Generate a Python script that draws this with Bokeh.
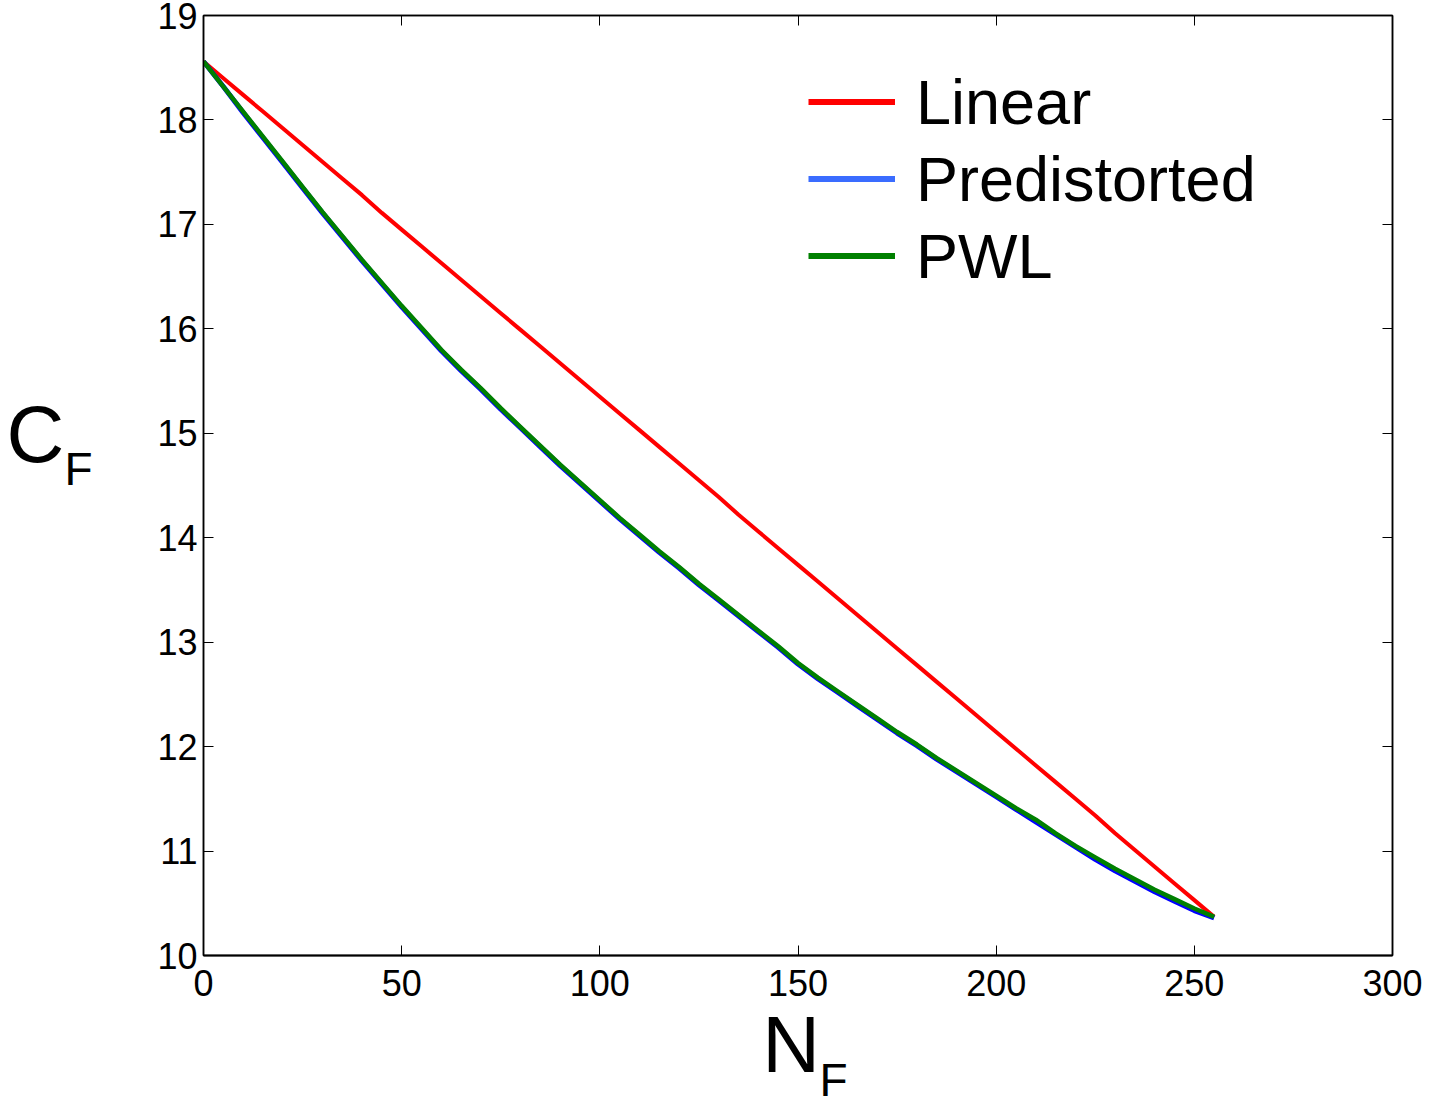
from bokeh.plotting import figure
from bokeh.models import (Range1d, LinearAxis, FixedTicker, Legend, LegendItem,
                          Label, ColumnDataSource, CustomJSTickFormatter)
from bokeh.embed import file_html
from bokeh.resources import INLINE

# ---- data ----
n_f = [0, 5, 10, 15, 20, 25, 30, 35, 40, 45, 50, 55, 60, 65, 70, 75, 80, 85, 90, 95,
       100, 105, 110, 115, 120, 125, 130, 135, 140, 145, 150, 155, 160, 165, 170, 175,
       180, 185, 190, 195, 200, 205, 210, 215, 220, 225, 230, 235, 240, 245, 250, 255]

linear = [18.56, 18.40, 18.24, 18.08, 17.92, 17.76, 17.60, 17.44, 17.28, 17.11,
          16.95, 16.79, 16.63, 16.47, 16.31, 16.15, 15.99, 15.83, 15.67, 15.51,
          15.35, 15.19, 15.03, 14.87, 14.71, 14.55, 14.39, 14.22, 14.06, 13.90,
          13.74, 13.58, 13.42, 13.26, 13.10, 12.94, 12.78, 12.62, 12.46, 12.30,
          12.14, 11.98, 11.82, 11.66, 11.50, 11.34, 11.17, 11.01, 10.85, 10.69,
          10.53, 10.37]

predistorted = [18.56, 18.32, 18.07, 17.83, 17.59, 17.35, 17.11, 16.88, 16.65, 16.43,
                16.21, 16.00, 15.79, 15.60, 15.42, 15.23, 15.05, 14.87, 14.69, 14.52,
                14.35, 14.18, 14.02, 13.86, 13.71, 13.55, 13.40, 13.25, 13.10, 12.95,
                12.79, 12.65, 12.52, 12.39, 12.26, 12.13, 12.01, 11.88, 11.76, 11.64,
                11.52, 11.40, 11.28, 11.16, 11.04, 10.92, 10.81, 10.71, 10.61, 10.52,
                10.43, 10.36]

pwl = [18.56, 18.32, 18.08, 17.84, 17.60, 17.36, 17.12, 16.89, 16.66, 16.44,
       16.22, 16.01, 15.80, 15.61, 15.43, 15.24, 15.06, 14.88, 14.70, 14.53,
       14.36, 14.19, 14.03, 13.87, 13.72, 13.56, 13.41, 13.26, 13.11, 12.96,
       12.80, 12.66, 12.53, 12.40, 12.27, 12.14, 12.02, 11.89, 11.77, 11.65,
       11.53, 11.41, 11.30, 11.17, 11.05, 10.94, 10.83, 10.73, 10.63, 10.54,
       10.45, 10.37]

x_ticks = [0, 50, 100, 150, 200, 250, 300]
y_ticks = [10, 11, 12, 13, 14, 15, 16, 17, 18, 19]
series_names = ["Linear", "Predistorted", "PWL"]
series_colors = ["#ff0000", "#0000ff", "#008000"]
legend_colors = ["#ff0000", "#3a6cff", "#008000"]

FONT = "Liberation Sans"

p = figure(width=1431, height=1101, output_backend="svg", toolbar_location=None,
           x_range=Range1d(0, 300), y_range=Range1d(10, 19),
           min_border_left=203, min_border_right=39, min_border_top=15,
           min_border_bottom=146, background_fill_color="white",
           border_fill_color="white")
p.grid.visible = False
p.outline_line_color = "black"
p.outline_line_width = 1.5

src = ColumnDataSource(dict(x=n_f, lin=linear, pre=predistorted, pwl=pwl))
p.line("x", "lin", source=src, line_color=series_colors[0], line_width=4)
p.line("x", "pre", source=src, line_color=series_colors[1], line_width=5)
p.line("x", "pwl", source=src, line_color=series_colors[2], line_width=4.5)

# legend swatches: renderers with a single undefined point, drawn thicker
nan = float("nan")
swatch = ColumnDataSource(dict(x=[nan], y=[nan]))
leg_r = [p.line("x", "y", source=swatch, line_color=c, line_width=6)
         for c in legend_colors]


def style_axis(ax, ticks, show_labels, width):
    ax.ticker = FixedTicker(ticks=ticks)
    ax.major_tick_in = 10
    ax.major_tick_out = 0
    ax.minor_tick_in = 0
    ax.minor_tick_out = 0
    ax.major_tick_line_color = "black"
    ax.major_tick_line_width = 1
    ax.axis_line_color = "black"
    ax.axis_line_width = width
    ax.major_label_text_font = FONT
    ax.major_label_text_font_size = "36px"
    ax.major_label_text_color = "black"
    if not show_labels:
        ax.formatter = CustomJSTickFormatter(code="return ''")
        ax.major_label_standoff = 0


xa = p.xaxis[0]
ya = p.yaxis[0]
style_axis(xa, x_ticks, True, 2)
style_axis(ya, y_ticks, True, 1.5)
xa.major_label_standoff = 14
ya.major_label_standoff = 6

top = LinearAxis()
right = LinearAxis()
style_axis(top, x_ticks, False, 1.5)
style_axis(right, y_ticks, False, 1.5)
p.add_layout(top, "above")
p.add_layout(right, "right")

# axis labels with subscripts, placed in side panels so they are not clipped
for txt, x, y, size, side in [("C", -49.7, 14.99, "80px", "left"),
                              ("F", -35.1, 14.66, "46px", "left"),
                              ("N", 141.0, 9.15, "80px", "left"),
                              ("F", 155.4, 8.81, "46px", "right")]:
    p.add_layout(Label(x=x, y=y, text=txt, text_font=FONT, text_font_size=size,
                       text_color="black", text_baseline="alphabetic",
                       text_align="left"), side)

legend = Legend(items=[LegendItem(label=n, renderers=[r], index=0)
                       for n, r in zip(series_names, leg_r)],
                location=(605, 661), border_line_color=None,
                background_fill_alpha=0, padding=0, margin=0, spacing=0,
                glyph_width=87, glyph_height=77, label_height=77,
                label_standoff=21, label_text_font=FONT,
                label_text_font_size="63px", label_text_color="black",
                label_text_baseline="middle")
p.add_layout(legend, "center")

open("out.html", "w").write(file_html(p, INLINE))
